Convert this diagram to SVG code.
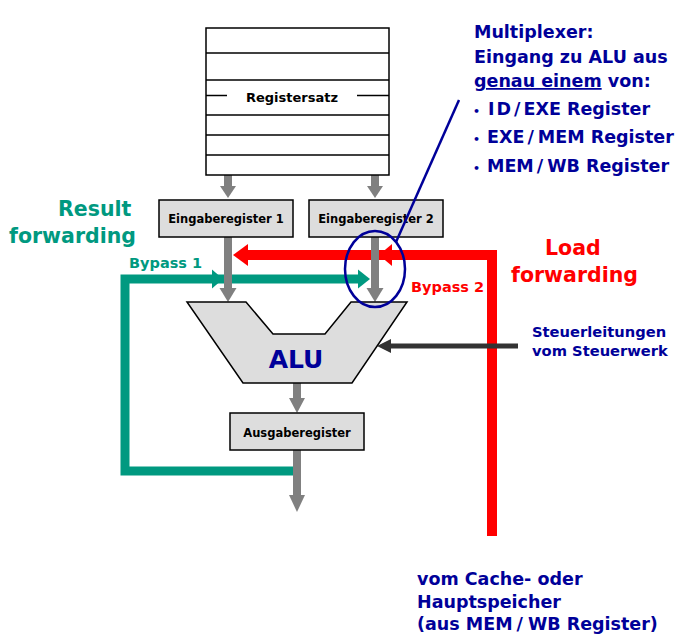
<svg xmlns="http://www.w3.org/2000/svg" width="690" height="640" viewBox="0 0 690 640">
<style>
text{font-family:"DejaVu Sans","Liberation Sans",sans-serif;font-weight:bold}
.box{fill:#dddddd;stroke:#000;stroke-width:1.5}
.lbl{font-size:11.5px;fill:#000;text-anchor:middle}
.gray{fill:#808080}
.navy{fill:#000099}
.teal{fill:#009980}
.red{fill:#ff0000}
.rl{stroke:#000;stroke-width:1.5}
</style>
<rect width="690" height="640" fill="#fff"/>

<g id="connectors">
  <!-- teal result forwarding -->
  <polyline points="293,471 125,471 125,279 360,279" fill="none" stroke="#009980" stroke-width="9"/>
  <polygon class="teal" points="212,269.5 223,279 212,288.5"/>
  <polygon class="teal" points="358,269.5 370,279 358,288.5"/>
  <!-- red load forwarding -->
  <polyline points="240,255 492,255 492,536" fill="none" stroke="#ff0000" stroke-width="10"/>
  <!-- gray data arrows -->
  <rect class="gray" x="224" y="175" width="8" height="12"/>
  <polygon class="gray" points="220,186 236,186 228,198"/>
  <rect class="gray" x="371" y="175" width="8" height="12"/>
  <polygon class="gray" points="367,186 383,186 375,198"/>
  <rect class="gray" x="224" y="237" width="8" height="52"/>
  <polygon class="gray" points="219.5,288 236.5,288 228,302"/>
  <rect class="gray" x="371" y="237" width="8" height="52"/>
  <polygon class="gray" points="366.5,288 383.5,288 375,302"/>
  <rect class="gray" x="293" y="383" width="8" height="16"/>
  <polygon class="gray" points="289,398 305,398 297,413"/>
  <rect class="gray" x="293" y="450" width="8" height="46"/>
  <polygon class="gray" points="289,495 305,495 297,512"/>
  <!-- red arrowheads -->
  <polygon class="red" points="248,244 233,255 248,266"/>
  <polygon class="red" points="392,244 379,255 392,266"/>
  <!-- control lines -->
  <line x1="518" y1="346" x2="389" y2="346" stroke="#333333" stroke-width="5"/>
  <polygon fill="#333333" points="391,339 377,346 391,353"/>
</g>

<g id="registersatz">
  <rect x="206" y="28" width="183" height="147" fill="#fff" stroke="#000" stroke-width="1.5"/>
  <line class="rl" x1="206" y1="53" x2="389" y2="53"/>
  <line class="rl" x1="206" y1="80" x2="389" y2="80"/>
  <line class="rl" x1="206" y1="95.5" x2="227" y2="95.5"/>
  <line class="rl" x1="357" y1="95.5" x2="389" y2="95.5"/>
  <line class="rl" x1="206" y1="115" x2="389" y2="115"/>
  <line class="rl" x1="206" y1="135" x2="389" y2="135"/>
  <line class="rl" x1="206" y1="155" x2="389" y2="155"/>
  <text x="292" y="102" font-size="13" text-anchor="middle">Registersatz</text>
</g>

<g id="eingabe1">
  <rect class="box" x="159" y="200" width="134" height="37"/>
  <text class="lbl" x="226" y="223">Eingaberegister 1</text>
</g>
<g id="eingabe2">
  <rect class="box" x="309" y="200" width="134" height="37"/>
  <text class="lbl" x="376" y="223">Eingaberegister 2</text>
</g>

<g id="alu">
  <polygon class="box" points="187,302 246,302 273,334 325,334 351,302 407,302 352,383 243,383"/>
  <text x="296" y="368" font-size="25" text-anchor="middle" class="navy">ALU</text>
</g>

<g id="ausgabe">
  <rect class="box" x="230" y="413" width="134" height="37"/>
  <text class="lbl" x="297" y="437">Ausgaberegister</text>
</g>

<g id="multiplexer">
  <ellipse cx="375" cy="269" rx="30" ry="38" fill="none" stroke="#000099" stroke-width="2.5"/>
  <line x1="459" y1="100" x2="396" y2="242" stroke="#000099" stroke-width="2.5"/>
  <g class="navy" font-size="17.5">
    <text x="474" y="38">Multiplexer:</text>
    <text x="474" y="63">Eingang zu ALU aus</text>
    <text x="474" y="87"><tspan text-decoration="underline">genau einem</tspan> von:</text>
    <text x="473" y="115"><tspan font-size="11">•</tspan> <tspan x="488">I</tspan><tspan dx="2">D</tspan><tspan dx="3">/</tspan><tspan dx="3">EXE Register</tspan></text>
    <text x="473" y="143"><tspan font-size="11">•</tspan> <tspan x="487">EXE</tspan><tspan dx="3">/</tspan><tspan dx="4">MEM Register</tspan></text>
    <text x="473" y="172"><tspan font-size="11">•</tspan> <tspan x="487">MEM</tspan><tspan dx="3">/</tspan><tspan dx="4">WB Register</tspan></text>
  </g>
</g>

<g id="labels">
  <text class="teal" x="58" y="216" font-size="20.5">Result</text>
  <text class="teal" x="9" y="243" font-size="20.5">forwarding</text>
  <text class="teal" x="129" y="268" font-size="14.5">Bypass 1</text>
  <text class="red" x="545" y="255" font-size="20.5">Load</text>
  <text class="red" x="511" y="282" font-size="20.5">forwarding</text>
  <text class="red" x="411" y="292" font-size="14.5">Bypass 2</text>
  <text class="navy" x="532" y="337" font-size="14.7">Steuerleitungen</text>
  <text class="navy" x="532" y="356" font-size="14.7">vom Steuerwerk</text>
  <text class="navy" x="417" y="585" font-size="17.5">vom Cache- oder</text>
  <text class="navy" x="417" y="608" font-size="17.5">Hauptspeicher</text>
  <text class="navy" x="417" y="630" font-size="17.5">(aus MEM<tspan dx="4">/</tspan><tspan dx="5">WB Register)</tspan></text>
</g>
</svg>
